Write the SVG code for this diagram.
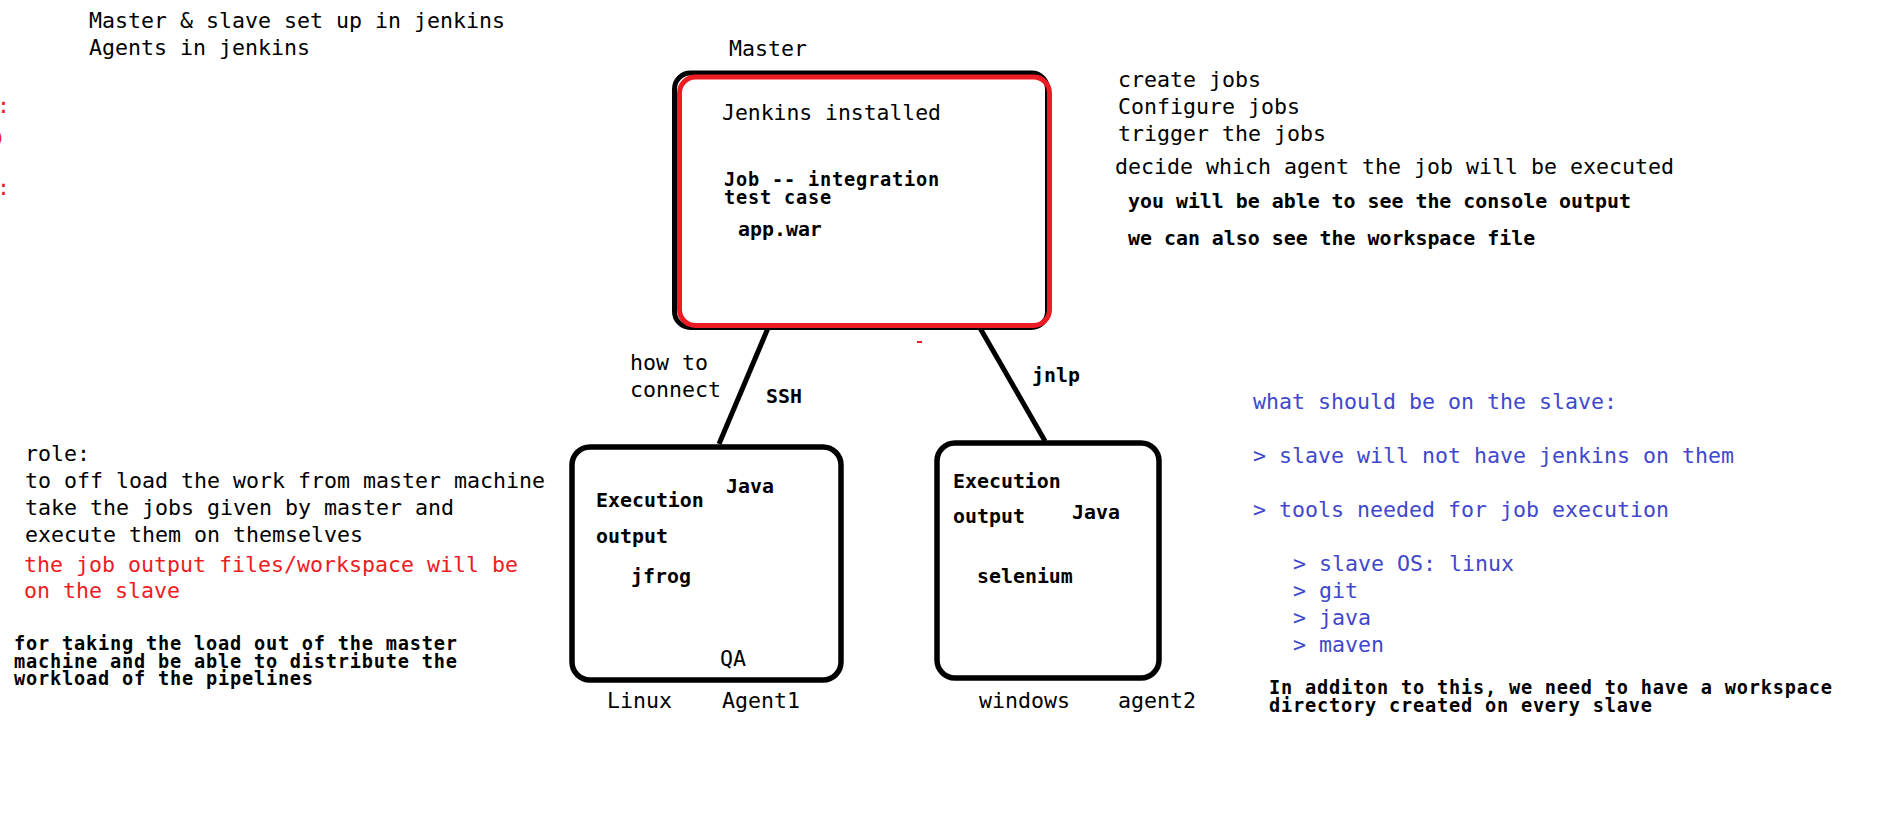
<svg xmlns="http://www.w3.org/2000/svg" width="1883" height="821" viewBox="0 0 1883 821">
<style>
.n{font-family:"DejaVu Sans Mono","Liberation Mono",monospace;font-size:21.6px;fill:#000}
.b{font-family:"DejaVu Sans Mono","Liberation Mono",monospace;font-size:19.9px;font-weight:bold;fill:#000}
.t{font-size:18.6px;letter-spacing:0.8px}
.red{fill:#ed1c24}
.blue{fill:#3f48cc}
.box{fill:none;stroke:#000;stroke-width:5.5}
.conn{stroke:#000;stroke-width:5;stroke-linecap:butt}
</style>
<rect width="1883" height="821" fill="#fff"/>

<g id="notes-top-left">
<text class="n" x="89" y="28">Master &amp; slave set up in jenkins</text>
<text class="n" x="89" y="55">Agents in jenkins</text>
<text class="n red" x="-3" y="113" font-size="20">:</text>
<text class="n red" x="-5" y="143" style="font-size:16px">)</text>
<text class="n red" x="-3" y="195" font-size="20">:</text>
</g>

<g id="connectors">
<line class="conn" x1="768" y1="328" x2="719" y2="444"/>
<line class="conn" x1="980" y1="328" x2="1045" y2="441"/>
</g>

<g id="master">
<text class="n" x="729" y="56">Master</text>
<rect x="674.5" y="73" width="373" height="254.5" rx="16" fill="#fff" stroke="#000" stroke-width="5"/>
<rect x="679.5" y="77" width="370" height="248.5" rx="16" fill="none" stroke="#ed1c24" stroke-width="5"/>
<text class="n" x="722" y="120" style="font-size:21.4px">Jenkins installed</text>
<text class="b t" x="724" y="186">Job -- integration</text>
<text class="b t" x="724" y="204">test case</text>
<text class="b" x="738" y="236">app.war</text>
</g>
<rect x="917" y="341" width="5" height="2" fill="#ed1c24"/>

<g id="master-notes">
<text class="n" x="1118" y="87">create jobs</text>
<text class="n" x="1118" y="114">Configure jobs</text>
<text class="n" x="1118" y="141">trigger the jobs</text>
<text class="n" x="1115" y="174">decide which agent the job will be executed</text>
<text class="b" x="1128" y="208">you will be able to see the console output</text>
<text class="b" x="1128" y="245">we can also see the workspace file</text>
</g>

<g id="connection-labels">
<text class="n" x="630" y="370">how to</text>
<text class="n" x="630" y="397">connect</text>
<text class="b" x="766" y="403">SSH</text>
<text class="b" x="1032" y="382">jnlp</text>
</g>

<g id="agent1">
<rect class="box" x="572" y="447" width="269" height="233" rx="18"/>
<text class="b" x="726" y="493">Java</text>
<text class="b" x="596" y="507">Execution</text>
<text class="b" x="596" y="543">output</text>
<text class="b" x="631" y="583">jfrog</text>
<text class="n" x="720" y="666">QA</text>
<text class="n" x="607" y="708">Linux</text>
<text class="n" x="722" y="708">Agent1</text>
</g>

<g id="agent2">
<rect class="box" x="937" y="443" width="222" height="235" rx="18"/>
<text class="b" x="953" y="488">Execution</text>
<text class="b" x="953" y="523">output</text>
<text class="b" x="1072" y="519">Java</text>
<text class="b" x="977" y="583">selenium</text>
<text class="n" x="979" y="708">windows</text>
<text class="n" x="1118" y="708">agent2</text>
</g>

<g id="role-notes">
<text class="n" x="25" y="461">role:</text>
<text class="n" x="25" y="488">to off load the work from master machine</text>
<text class="n" x="25" y="515">take the jobs given by master and</text>
<text class="n" x="25" y="542">execute them on themselves</text>
<text class="n red" x="24" y="572">the job output files/workspace will be</text>
<text class="n red" x="24" y="598">on the slave</text>
<text class="b t" x="14" y="650">for taking the load out of the master</text>
<text class="b t" x="14" y="668">machine and be able to distribute the</text>
<text class="b t" x="14" y="685">workload of the pipelines</text>
</g>

<g id="slave-notes">
<text class="n blue" x="1253" y="409">what should be on the slave:</text>
<text class="n blue" x="1253" y="463">&gt; slave will not have jenkins on them</text>
<text class="n blue" x="1253" y="517">&gt; tools needed for job execution</text>
<text class="n blue" x="1293" y="571">&gt; slave OS: linux</text>
<text class="n blue" x="1293" y="598">&gt; git</text>
<text class="n blue" x="1293" y="625">&gt; java</text>
<text class="n blue" x="1293" y="652">&gt; maven</text>
<text class="b t" x="1269" y="694">In additon to this, we need to have a workspace</text>
<text class="b t" x="1269" y="712">directory created on every slave</text>
</g>
</svg>
